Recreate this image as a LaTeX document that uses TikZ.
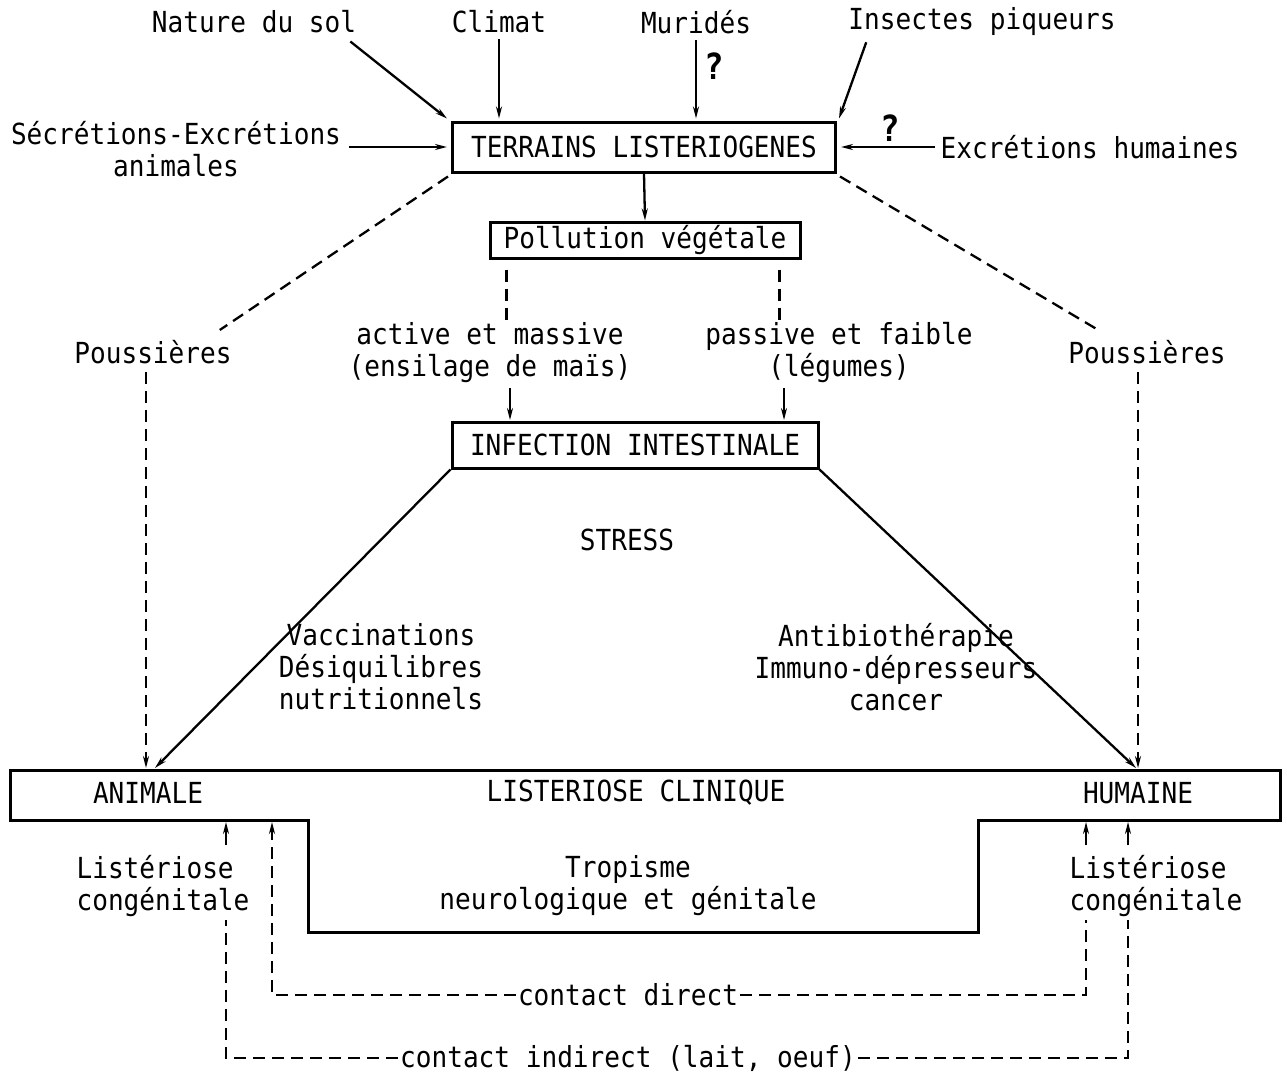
\documentclass[tikz,border=0pt]{standalone}
\usepackage{fontspec}
\newfontfamily\tw[FakeStretch=0.9]{DejaVu Sans Mono}
\usetikzlibrary{arrows.meta}
\tikzset{
  txt/.style={font=\tw\fontsize{29pt}{32pt}\selectfont, inner sep=0pt, align=center},
  boxn/.style={txt, draw, line width=3pt},
  arr/.style={line width=2.3pt, -{Stealth[length=12pt,width=6pt]}},
  dsh/.style={line width=2.3pt, dash pattern=on 12pt off 7pt},
  darr/.style={dsh, -{Stealth[length=12pt,width=6pt]}},
  qm/.style={font=\tw\bfseries\fontsize{36pt}{38pt}\selectfont, inner sep=0pt},
}
\begin{document}
\begin{tikzpicture}[x=1pt,y=-1pt]
\useasboundingbox (0,0) rectangle (1287,1073);
% top sources
\node[txt] (nat) at (254,22) {Nature du sol};
\node[txt] (cli) at (499,22) {Climat};
\node[txt] (mur) at (696,22) {Muridés};
\node[txt] (ins) at (982,22) {Insectes piqueurs};
\node[txt] (sec) at (176,149) {Sécrétions-Excrétions\\animales};
\node[txt] (exh) at (1090,147) {Excrétions humaines};
\node[boxn, minimum width=383pt, minimum height=50pt] (ter) at (644,147) {TERRAINS LISTERIOGENES};
\node[qm] (q1) at (714,66) {?};
\node[qm] (q2) at (890,128) {?};
\draw[arr] ([xshift=-6pt,yshift=-8pt]nat.south east) -- ([xshift=-4pt,yshift=2pt]ter.north west);
\draw[arr] ([yshift=-6pt]cli.south) -- ([yshift=2pt]cli.south |- ter.north);
\draw[arr] ([yshift=-6pt]mur.south) -- ([yshift=2pt]mur.south |- ter.north);
\draw[arr] ([xshift=18pt,yshift=-6pt]ins.south west) -- ([xshift=2pt,yshift=2pt]ter.north east);
\draw[arr] ([xshift=8pt]sec.east |- ter.west) -- ([xshift=-4pt]ter.west);
\draw[arr] ([xshift=-6pt]exh.west) -- ([xshift=4pt]ter.east);
% pollution
\node[boxn, minimum width=310pt, minimum height=36pt] (pol) at (645,240) {Pollution végétale};
\draw[arr] (ter.south) -- (pol.north);
\node[txt] (act) at (490,353) {active et massive\\(ensilage de maïs)};
\node[txt] (pas) at (839,353) {passive et faible\\(légumes)};
\node[boxn, minimum width=366pt, minimum height=46pt] (inf) at (635,445) {INFECTION INTESTINALE};
\draw[dsh] ([xshift=18pt,yshift=-10pt]pol.south west) -- ([xshift=18pt]pol.south west |- 0,320);
\draw[dsh] ([xshift=-22pt,yshift=-10pt]pol.south east) -- ([xshift=-22pt]pol.south east |- 0,320);
\draw[arr] (510,388) -- (510,420);
\draw[arr] (784,388) -- (784,420);
% poussieres
\node[txt] (pl) at (153,352) {Poussières};
\node[txt] (pr) at (1147,352) {Poussières};
\draw[dsh] ([xshift=-3pt,yshift=-3pt]ter.south west) -- ([xshift=-12pt,yshift=10pt]pl.north east);
\draw[dsh] ([xshift=3pt,yshift=-3pt]ter.south east) -- ([xshift=30pt,yshift=10pt]pr.north west);
% stress
\node[txt] (str) at (627,540) {STRESS};
\node[txt] (vac) at (381,667) {Vaccinations\\Désiquilibres\\nutritionnels};
\node[txt] (ant) at (896,667) {Antibiothérapie\\Immuno-dépresseurs\\cancer};
% clinique
\draw[line width=3pt, line join=miter] (10,770) -- (1280,770) -- (1280,820) -- (978,820) -- (978,932) -- (308,932) -- (308,820) -- (10,820) -- cycle;
\node[txt] (ani) at (148,793) {ANIMALE};
\node[txt] (lc) at (636,793) {LISTERIOSE CLINIQUE};
\node[txt] (hum) at (1138,793) {HUMAINE};
\node[txt] (tro) at (628,886) {Tropisme\\neurologique et génitale};
\coordinate (ca) at (155,768);
\coordinate (ch) at (1136,768);
\draw[arr] (inf.south west) -- (ca);
\draw[arr] (inf.south east) -- (ch);
\draw[darr] ([xshift=-7pt,yshift=-8pt]pl.south) -- ([xshift=-7pt]pl.south |- ca);
\draw[darr] ([xshift=-9pt,yshift=-8pt]pr.south) -- ([xshift=-9pt]pr.south |- ch);
% bottom
\node[txt, align=left] (lcl) at (163,886) {Listériose\\congénitale};
\node[txt, align=left] (lcr) at (1156,886) {Listériose\\congénitale};
\node[txt, fill=white, inner xsep=2pt] (cd) at (628,995) {contact direct};
\node[txt, fill=white, inner xsep=2pt] (cid) at (628,1058) {contact indirect (lait, oeuf)};
\draw[arr, line width=1.8pt] (226,845) -- (226,822);
\draw[arr, line width=1.8pt] (1086,845) -- (1086,822);
\draw[arr, line width=1.8pt] (1128,845) -- (1128,822);
\draw[dsh] (cid.west) -- (226,1058) -- (226,920);
\draw[dsh] (cid.east) -- (1128,1058) -- (1128,920);
\draw[darr] (cd.west) -- (272,995) -- (272,822);
\draw[dsh] (cd.east) -- (1086,995) -- (1086,920);
\end{tikzpicture}
\end{document}
